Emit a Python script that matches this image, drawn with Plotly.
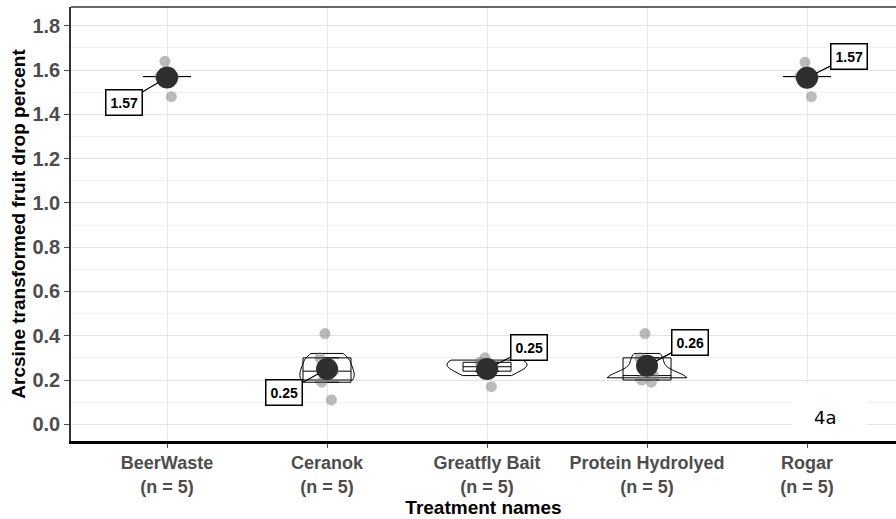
import numpy as np
import plotly.graph_objects as go

# Treatment groups and arcsine-transformed fruit drop (5 replicates each)
treatments = ["BeerWaste", "Ceranok", "Greatfly Bait", "Protein Hydrolyed", "Rogar"]
beerwaste = [1.48, 1.5708, 1.5708, 1.5708, 1.64]
ceranok = [0.11, 0.19, 0.24, 0.30, 0.41]
greatfly_bait = [0.17, 0.24, 0.26, 0.28, 0.30]
protein_hydrolyed = [0.19, 0.20, 0.22, 0.30, 0.41]
rogar = [1.48, 1.5708, 1.5708, 1.5708, 1.635]
groups = [beerwaste, ceranok, greatfly_bait, protein_hydrolyed, rogar]
y_ticks = [0.0, 0.2, 0.4, 0.6, 0.8, 1.0, 1.2, 1.4, 1.6, 1.8]

# ---- styling ----
FONT = "Liberation Sans, Arial, sans-serif"
violin_style = {  # group index -> (span, full width)
    1: ((0.20, 0.32), 0.34),
    2: ((0.22, 0.29), 0.5),
    3: ((0.21, 0.32), 0.5),
}
label_offset = [(-43, 25), (-43, 24), (42, -21), (43, -23), (42, -21)]

fig = go.Figure()

for i, vals in enumerate(groups):
    pos = i + 1
    vals = np.asarray(vals)

    # density outline
    if i in violin_style:
        span, vwidth = violin_style[i]
        fig.add_trace(go.Violin(
            x=[pos] * len(vals), y=vals, width=vwidth, scalemode="width",
            spanmode="manual", span=list(span), bandwidth=0.035,
            points=False, line=dict(color="black", width=1),
            fillcolor="rgba(255,255,255,0)", showlegend=False, hoverinfo="skip",
        ))

    # box (quartiles, no whiskers)
    q1, med, q3 = np.percentile(vals, [25, 50, 75])
    fig.add_trace(go.Box(
        x=[pos], q1=[q1], median=[med], q3=[q3], lowerfence=[q1], upperfence=[q3],
        width=0.3, line=dict(color="black", width=1),
        fillcolor="rgba(255,255,255,0)", showlegend=False, hoverinfo="skip",
    ))

    # raw observations, jittered
    fig.add_trace(go.Box(
        x=[pos] * len(vals), y=vals, boxpoints="all", jitter=0.35, pointpos=0,
        width=0.3, line=dict(width=0), fillcolor="rgba(0,0,0,0)",
        marker=dict(size=11, color="rgba(120,120,120,0.5)", line=dict(width=0)),
        showlegend=False, hoverinfo="skip",
    ))

    # group mean with label
    m = float(vals.mean())
    fig.add_trace(go.Scatter(
        x=[pos], y=[m], mode="markers",
        marker=dict(size=22, color="#2e2e2e"), showlegend=False, hoverinfo="skip",
    ))
    ax, ay = label_offset[i]
    fig.add_annotation(
        x=pos, y=m, text=f"<b>{m:.2f}</b>", showarrow=True, arrowhead=0,
        arrowwidth=1.2, arrowcolor="black", ax=ax, ay=ay, standoff=10,
        font=dict(family=FONT, size=14, color="black"),
        bgcolor="white", bordercolor="black", borderwidth=1.5, borderpad=4,
    )

tick_text = [f"<b>{t}<br>(n = {len(g)})</b>" for t, g in zip(treatments, groups)]

fig.update_layout(
    width=896, height=519,
    margin=dict(l=71, r=0, t=7, b=78),
    plot_bgcolor="white", paper_bgcolor="white",
    font=dict(family=FONT, color="#4d4d4d"),
    xaxis=dict(
        range=[0.4, 5.556], tickmode="array",
        tickvals=list(range(1, len(treatments) + 1)), ticktext=tick_text,
        tickfont=dict(size=18, color="#4d4d4d"),
        showgrid=True, gridcolor="#e8e8e8", gridwidth=1,
        showline=True, linecolor="black", linewidth=2.5,
        ticks="outside", ticklen=4, tickcolor="#4d4d4d",
        zeroline=False,
        title=dict(text="<b>Treatment names</b>", font=dict(size=19, color="black"),
                   standoff=0),
    ),
    yaxis=dict(
        range=[-0.0755, 1.885], tickmode="array", tickvals=y_ticks,
        ticktext=[f"<b>{v:.1f}</b>" for v in y_ticks],
        tickfont=dict(size=20, color="#4d4d4d"),
        showgrid=True, gridcolor="#e3e3e3", gridwidth=1,
        minor=dict(dtick=0.1, tick0=0.1, showgrid=True, gridcolor="#f2f2f2"),
        showline=True, linecolor="#333333", linewidth=1.5,
        ticks="outside", ticklen=5, tickcolor="#4d4d4d",
        zeroline=False,
        title=dict(text="<b>Arcsine transformed fruit drop percent</b>",
                   font=dict(size=19, color="black"), standoff=2),
    ),
    shapes=[
        dict(type="line", xref="paper", yref="paper", x0=0, x1=1, y0=1, y1=1,
             line=dict(color="#333333", width=1.5)),
        dict(type="rect", xref="paper", yref="paper", x0=0.874, x1=0.965,
             y0=0.002, y1=0.134, fillcolor="white", line=dict(width=0),
             layer="above"),
    ],
)

fig.add_annotation(
    xref="paper", yref="paper", x=0.914, y=0.053, xanchor="center", yanchor="middle",
    text="4a", showarrow=False,
    font=dict(family="DejaVu Sans", size=18, color="black"),
)

fig.write_html("out.html")
